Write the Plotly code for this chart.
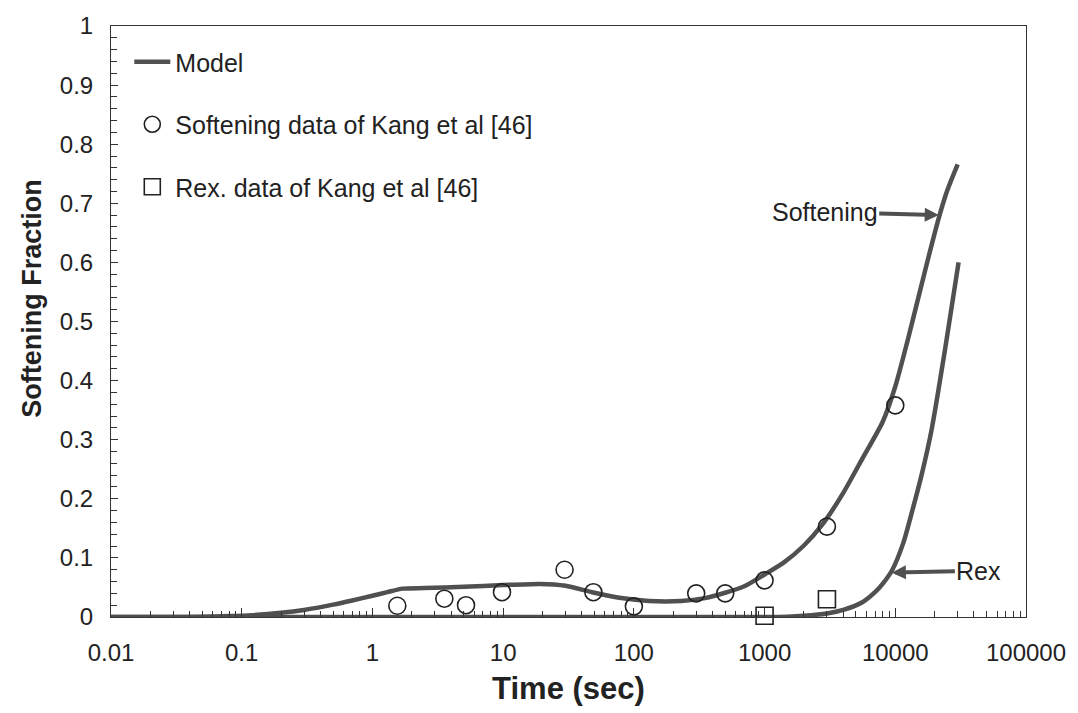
import numpy as np
import plotly.graph_objects as go

# ---- data ----
soft_model_x = [0.01, 0.03, 0.05, 0.08, 0.12, 0.2, 0.3, 0.5, 0.7, 1.0, 1.3, 1.7, 2.5, 5, 10, 19, 30, 48,
                80, 130, 230, 350, 500, 700, 1000, 1400, 2000, 2800, 4000, 5600, 8000, 10000, 12500,
                15000, 18000, 21500, 25000, 30000]
soft_model_y = [0, 0, 0.0005, 0.0015, 0.003, 0.007, 0.012, 0.021, 0.028, 0.036, 0.042, 0.048, 0.049,
                0.051, 0.054, 0.056, 0.053, 0.042, 0.032, 0.027, 0.027, 0.032, 0.041, 0.052, 0.072,
                0.092, 0.121, 0.158, 0.21, 0.268, 0.33, 0.39, 0.47, 0.54, 0.61, 0.675, 0.722, 0.766]

rex_model_x = [0.01, 100, 1000, 1500, 2000, 3000, 4000, 5600, 7000, 8000, 9500, 11500, 13500, 16000,
               19000, 24000, 30500]
rex_model_y = [0, 0, 0, 0.0005, 0.002, 0.006, 0.012, 0.025, 0.042, 0.056, 0.08, 0.125, 0.18, 0.243,
               0.318, 0.452, 0.6]

soft_data_x = [1.55, 3.55, 5.2, 9.8, 29.5, 49, 100, 300, 500, 1000, 3000, 10000]
soft_data_y = [0.019, 0.031, 0.02, 0.042, 0.08, 0.042, 0.018, 0.04, 0.04, 0.062, 0.153, 0.358]

rex_data_x = [1000, 3000]
rex_data_y = [0.002, 0.03]

x_tick_vals = [0.01, 0.1, 1, 10, 100, 1000, 10000, 100000]
x_tick_text = ["0.01", "0.1", "1", "10", "100", "1000", "10000", "100000"]
y_tick_vals = [0, 0.1, 0.2, 0.3, 0.4, 0.5, 0.6, 0.7, 0.8, 0.9, 1]
y_tick_text = ["0", "0.1", "0.2", "0.3", "0.4", "0.5", "0.6", "0.7", "0.8", "0.9", "1"]

# arrow targets (data space)
soft_arrow_x, soft_arrow_y = 21500, 0.68
rex_arrow_x, rex_arrow_y = 9420, 0.075

FONT = "Liberation Sans, Arial, sans-serif"
INK = "#222222"
LINE = "#505050"

fig = go.Figure()
fig.add_trace(go.Scatter(x=soft_model_x, y=soft_model_y, mode="lines", name="Model",
                         line=dict(color=LINE, width=4.5, shape="spline", smoothing=0.6),
                         legendgroup="a", cliponaxis=False))
fig.add_trace(go.Scatter(x=rex_model_x, y=rex_model_y, mode="lines", name="Model", showlegend=False,
                         line=dict(color=LINE, width=4.5, shape="spline", smoothing=0.7),
                         legendgroup="a", cliponaxis=False))
fig.add_trace(go.Scatter(x=soft_data_x, y=soft_data_y, mode="markers",
                         name="Softening data of Kang et al [46]", legendgroup="b",
                         marker=dict(symbol="circle-open", size=17, color=INK, line=dict(width=1.6)),
                         cliponaxis=False))
fig.add_trace(go.Scatter(x=rex_data_x, y=rex_data_y, mode="markers",
                         name="Rex. data of Kang et al [46]", legendgroup="c",
                         marker=dict(symbol="square-open", size=17, color=INK, line=dict(width=1.6)),
                         cliponaxis=False))

fig.add_annotation(x=np.log10(soft_arrow_x), y=soft_arrow_y, xref="x", yref="y",
                   text="Softening", showarrow=True, ax=-114, ay=-3,
                   arrowhead=2, arrowsize=0.7, arrowwidth=4, arrowcolor=LINE,
                   font=dict(size=25, color=INK, family=FONT))
fig.add_annotation(x=np.log10(rex_arrow_x), y=rex_arrow_y, xref="x", yref="y",
                   text="Rex", showarrow=True, ax=87, ay=-2,
                   arrowhead=2, arrowsize=0.7, arrowwidth=4, arrowcolor=LINE,
                   font=dict(size=25, color=INK, family=FONT))
# y-axis title
fig.add_annotation(x=-0.086, y=0.539, xref="paper", yref="paper", showarrow=False,
                   xanchor="center", yanchor="middle",
                   text="<b>Softening Fraction</b>", textangle=-90,
                   font=dict(size=27, color=INK, family=FONT))

fig.update_layout(
    width=1078, height=713,
    margin=dict(l=111, r=51, t=18, b=96),
    paper_bgcolor="white", plot_bgcolor="white",
    font=dict(family=FONT, size=24, color=INK),
    showlegend=True,
    legend=dict(x=0.02, y=0.978, xanchor="left", yanchor="top", bgcolor="rgba(0,0,0,0)",
                font=dict(size=25, color=INK, family=FONT), tracegroupgap=27, itemwidth=36),
    xaxis=dict(type="log", range=[-2, 5], tickvals=x_tick_vals, ticktext=x_tick_text,
               showgrid=False, zeroline=False, showline=True, linecolor="#333", linewidth=1,
               mirror=True, ticks="inside", ticklen=9, tickcolor="#333",
               minor=dict(ticks="inside", ticklen=6, tickcolor="#333", dtick="D1", showgrid=False),
               ticklabelstandoff=14,
               title=dict(text="<b>Time (sec)</b>", font=dict(size=31, color=INK, family=FONT),
                          standoff=12)),
    yaxis=dict(range=[0, 1], tickvals=y_tick_vals, ticktext=y_tick_text,
               showgrid=False, zeroline=False, showline=True, linecolor="#333", linewidth=1,
               mirror=True, ticks="inside", ticklen=7, tickcolor="#333",
               minor=dict(ticks="inside", ticklen=6, tickcolor="#333", dtick=0.02, showgrid=False),
               ticklabelstandoff=12),
)

fig.write_html("out.html")
